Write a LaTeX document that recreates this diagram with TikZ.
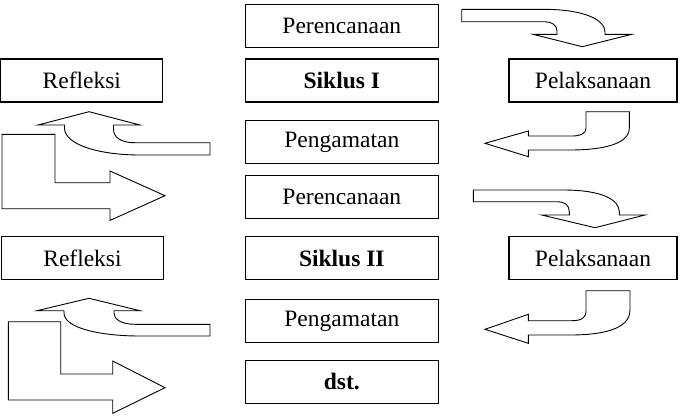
\documentclass[tikz,border=0pt]{standalone}
\usepackage{fontspec}
\setmainfont{Liberation Serif}
\begin{document}
\begin{tikzpicture}[x=1pt,y=-1pt,
  box/.style={draw,line width=1.3pt,inner sep=0pt,minimum height=43pt,font=\fontsize{23.5}{27}\selectfont},
  cbox/.style={box,minimum width=193pt},
  sbox/.style={box,minimum width=162pt},
  pbox/.style={box,minimum width=168pt},
  blockarrow/.style={draw,fill=white,line width=0.9pt,line join=miter}]
\useasboundingbox (0,0) rectangle (684,418);
% central column
\node[cbox] (p1) at (341.8,25.8) {Perencanaan};
\node[cbox] (s1) at (341.8,80.5) {\textbf{Siklus I}};
\node[cbox] (g1) at (341.8,142) {Pengamatan};
\node[cbox] (p2) at (341.8,197) {Perencanaan};
\node[cbox] (s2) at (341.8,258) {\textbf{Siklus II}};
\node[cbox] (g2) at (341.8,321) {Pengamatan};
\node[cbox] (d) at (341.8,382) {\textbf{dst.}};
% side boxes
\node[sbox] (r1) at (81.8,80.5) {Refleksi};
\node[sbox] (r2) at (82.5,258) {Refleksi};
\node[pbox] (l1) at (593,80.5) {Pelaksanaan};
\node[pbox] (l2) at (593,258) {Pelaksanaan};
% right-top curved arrows (Perencanaan -> Pelaksanaan)
\draw[blockarrow] (461.7,9.3) -- (543,9.3) .. controls (585,9.3) and (605,20) .. (605,32) -- (605,34.3) -- (631.7,34.3) -- (582.3,46.7) -- (533,34.3) -- (557,34.3) -- (557,31) .. controls (557,25) and (552,21.7) .. (543,21.7) -- (461.7,21.7) -- cycle;
\draw[blockarrow] (473.3,190) -- (563,190) .. controls (603,190) and (619.3,200) .. (619.3,212) -- (619.3,215) -- (645,215) -- (595,227.7) -- (541.7,215) -- (569.3,215) -- (569.3,212) .. controls (569.3,205) and (565,201.7) .. (556.7,201.7) -- (473.3,201.7) -- cycle;
% right-bottom curved arrows (Pelaksanaan -> Pengamatan)
\draw[blockarrow] (586,111.7) -- (629.3,111.7) -- (629.3,128) .. controls (629.3,145) and (600,150) .. (570,150) -- (528.3,150) -- (528.3,156.7) -- (485,143.3) -- (528.3,131) -- (528.3,136) -- (572,136) .. controls (580,136) and (586,134) .. (586,128) -- cycle;
\draw[blockarrow] (586,290.7) -- (630,290.7) -- (630,310) .. controls (630,330) and (600,335) .. (570,335) -- (528.3,335) -- (528.3,343.3) -- (485,329.3) -- (528.3,314.3) -- (528.3,320.7) -- (572,320.7) .. controls (581,320.7) and (586,318) .. (586,311) -- cycle;
% left curved-up arrows (Pengamatan -> Refleksi)
\draw[blockarrow] (210,142.7) -- (135,142.7) .. controls (120,142.7) and (113.5,137) .. (113.5,129) -- (113.5,125) -- (140,125) -- (89,111.7) -- (38,125) -- (64.5,125) -- (64.5,128) .. controls (64.5,145) and (100,155) .. (140,155) -- (210,155) -- cycle;
\draw[blockarrow] (210,324.3) -- (135,324.3) .. controls (121,324.3) and (114,319) .. (114,313) -- (114,310.7) -- (140,310.7) -- (89,298.3) -- (37,310.7) -- (64,310.7) -- (64,313) .. controls (64,328) and (100,336) .. (140,336) -- (210,336) -- cycle;
% left L-shaped arrows (Refleksi -> next cycle)
\draw[blockarrow] (2,134.3) -- (55,134.3) -- (55,182.7) -- (110,182.7) -- (110,171) -- (165,195.7) -- (110,220.4) -- (110,208.7) -- (2,208.7) -- cycle;
\draw[blockarrow] (8.3,321.7) -- (60.7,321.7) -- (60.7,374) -- (112.7,374) -- (112.7,361) -- (165,387.7) -- (112.7,413.3) -- (112.7,400) -- (8.3,400) -- cycle;
\end{tikzpicture}
\end{document}
